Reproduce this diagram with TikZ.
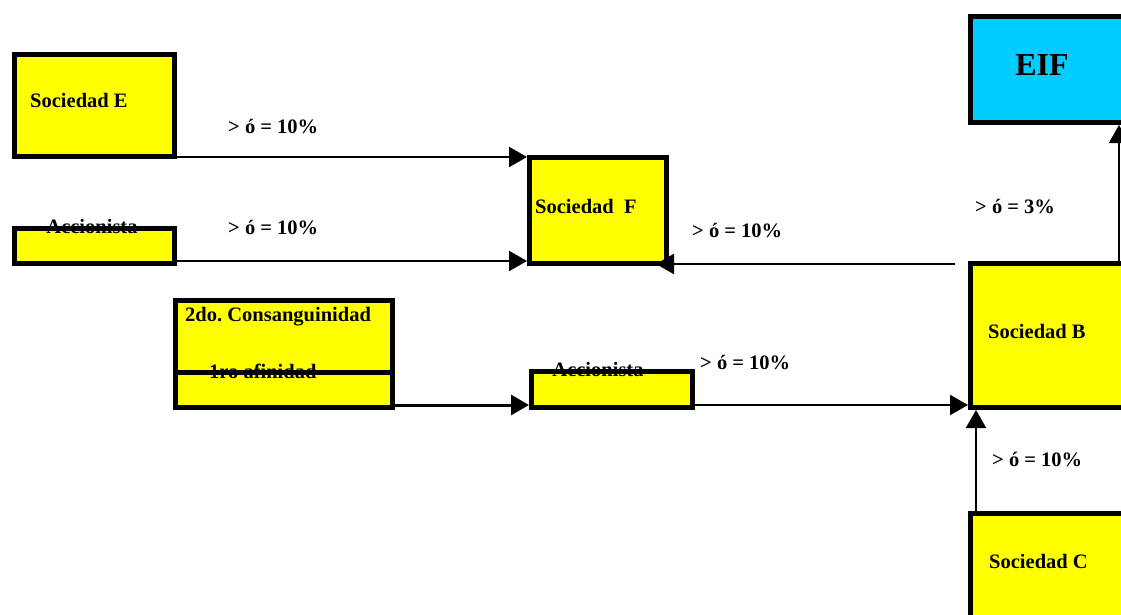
\documentclass[tikz,border=0pt]{standalone}
\usepackage{fontspec}
\setmainfont{Liberation Serif}
\usetikzlibrary{arrows.meta}
\definecolor{boxyellow}{HTML}{FFFF00}
\definecolor{eifcyan}{HTML}{00CCFF}
\frenchspacing
\begin{document}
\begin{tikzpicture}[x=1pt,y=-1pt,
  box/.style={draw=black, line width=5pt, fill=boxyellow, rectangle, inner sep=0pt},
  arr/.style={line width=2pt, -{Triangle[length=18pt,width=20pt]}},
  lbl/.style={font=\fontsize{20.5pt}{24pt}\selectfont\bfseries, inner sep=0pt, anchor=base west},
  clbl/.style={lbl, anchor=base}]
\useasboundingbox (0,0) rectangle (1121,615);

% boxes
\node[box, minimum width=160pt, minimum height=102pt] (e)  at (94.5,105.5) {};
\node[box, minimum width=160pt, minimum height=35pt]  (a1) at (94.5,246) {};
\node[box, minimum width=137pt, minimum height=106pt] (f)  at (598,210.5) {};
\node[box, minimum width=217pt, minimum height=74pt]  (k1) at (284,337.5) {};
\node[box, minimum width=217pt, minimum height=35pt]  (k2) at (284,390) {};
\node[box, minimum width=161pt, minimum height=36pt]  (a2) at (612,389.5) {};
\node[box, fill=eifcyan, minimum width=159pt, minimum height=106pt] (eif) at (1050,69.5) {};
\node[box, minimum width=159pt, minimum height=144pt] (b) at (1050,335.5) {};
\node[box, minimum width=159pt, minimum height=113pt] (c) at (1050,570) {};

% connectors
\draw[arr] ([yshift=2pt]e.south east) -- ([yshift=2pt]e.south east -| f.west);
\draw[arr] ([yshift=5pt]a1.south east) -- ([yshift=5pt]a1.south east -| f.west);
\draw[arr] ([shift={(-13pt,-3pt)}]b.north west) -- ([shift={(-13pt,-3pt)}]b.north west -| f.east);
\draw[arr, line width=3pt] ([yshift=5pt]k2.south east) -- ([yshift=5pt]k2.south east -| a2.west);
\draw[arr] ([yshift=5pt]a2.south east) -- ([yshift=5pt]a2.south east -| b.west);
\draw[arr] ([xshift=8pt]c.north west) -- ([xshift=8pt]c.north west |- b.south);
\draw[arr] ([xshift=151pt]b.north west) -- ([xshift=151pt]b.north west |- eif.south);

% texts
\node[lbl] (te) at (30,108) {Sociedad E};
\node[clbl] (ta1) at (92,233) {Accionista};
\node[lbl] (tf) at (535,213) {Sociedad\ \ F};
\node[lbl] (tk1) at (185,321) {2do. Consanguinidad};
\node[lbl] (tk2) at (209,378) {1ro afinidad};
\node[clbl] (ta2) at (598,376) {Accionista};
\node[font=\fontsize{32pt}{36pt}\selectfont\bfseries, inner sep=0pt, anchor=base] (teif) at (1042,76) {EIF};
\node[lbl] (tb) at (988,338) {Sociedad B};
\node[lbl] (tc) at (989,568) {Sociedad C};

\node[lbl] (p1) at (228,133) {> ó = 10\%};
\node[lbl] (p2) at (228,234) {> ó = 10\%};
\node[lbl] (p3) at (692,237) {> ó = 10\%};
\node[lbl] (p4) at (700,369) {> ó = 10\%};
\node[lbl] (p5) at (992,466) {> ó = 10\%};
\node[lbl] (p6) at (975,213) {> ó = 3\%};
\end{tikzpicture}
\end{document}
